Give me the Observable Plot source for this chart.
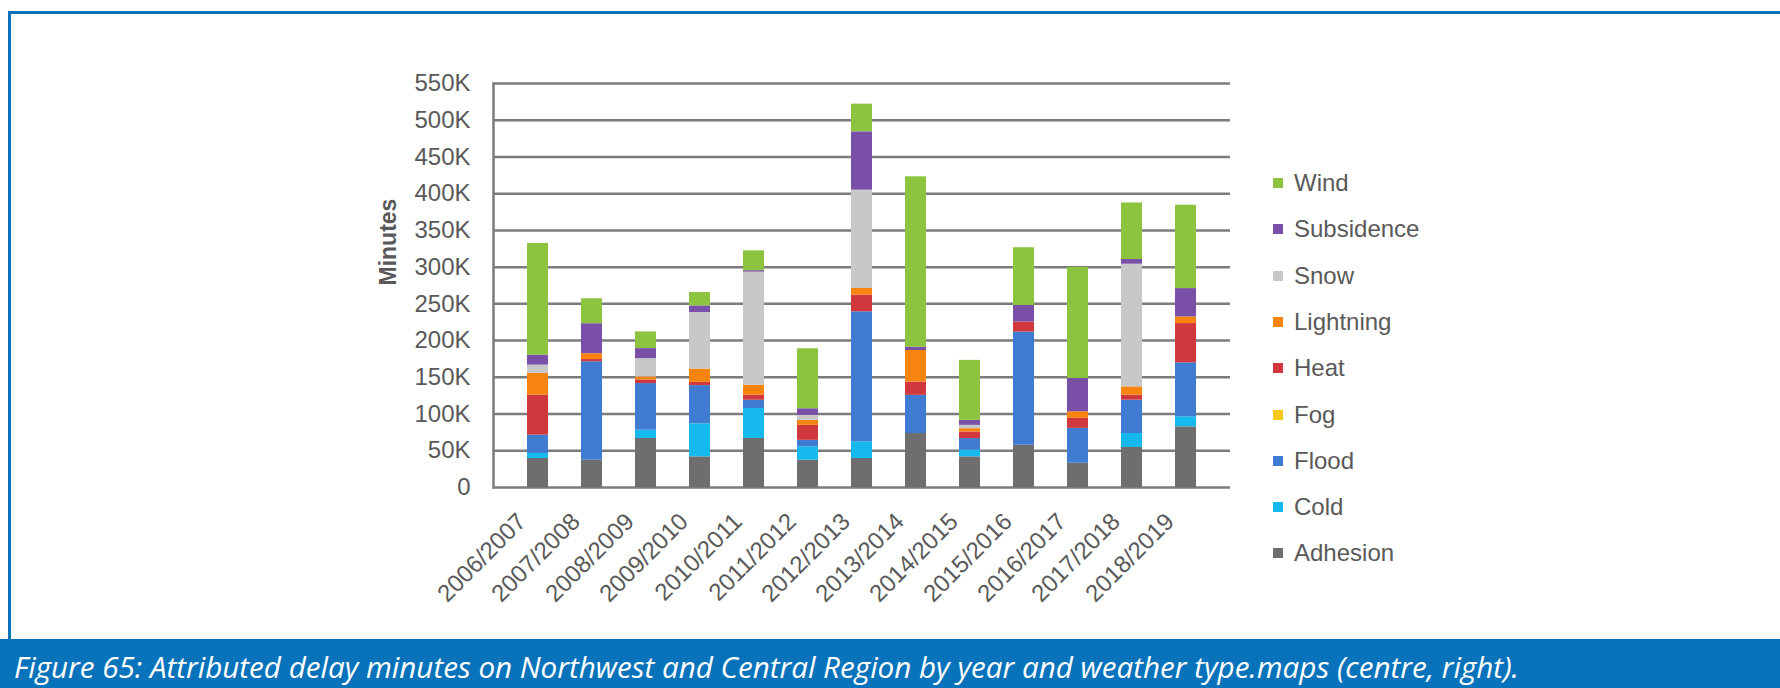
<!DOCTYPE html>
<html>
<head>
<meta charset="utf-8">
<script src="https://cdn.jsdelivr.net/npm/d3@7"></script>
<script src="https://cdn.jsdelivr.net/npm/@observablehq/plot@0.6"></script>
<style>
  html, body { margin: 0; padding: 0; background: #fff; }
  #page { position: relative; width: 1780px; height: 688px; overflow: hidden; font-family: "Liberation Sans", Arial, sans-serif; }
  #frame { position: absolute; left: 8px; top: 11px; width: 1772px; height: 628px; border-top: 3px solid #0873bb; border-left: 3px solid #0873bb; box-sizing: border-box; }
  #chart { position: absolute; left: 0; top: 0; }
  #legend { position: absolute; left: 1273px; top: 160px; }
  .item { position: absolute; left: 0; height: 30px; display: flex; align-items: center; white-space: nowrap; font-size: 24px; color: #595959; }
  .sw { width: 10px; height: 10px; margin-right: 11px; }
  #band { position: absolute; left: 0; top: 639px; width: 1780px; height: 49px; background: #0873bb; }
</style>
</head>
<body>
<div id="page">
  <div id="frame"></div>
  <div id="chart"></div>
  <div id="legend"></div>
  <div id="band"><svg width="1780" height="49"><text id="cap" x="14" y="39" fill="#fff" font-family="Open Sans" font-style="italic" font-size="30" lengthAdjust="spacingAndGlyphs" textLength="1505"></text></svg></div>
</div>
<script>
const years = ["2006/2007","2007/2008","2008/2009","2009/2010","2010/2011","2011/2012","2012/2013","2013/2014","2014/2015","2015/2016","2016/2017","2017/2018","2018/2019"];
// values in thousands of minutes (bottom to top of stack)
const adhesion   = [39.5, 37.2, 66.7, 41.7, 66.7, 37.2, 39.5, 73.5, 41.7, 57.6, 33.0, 54.5, 82.6];
const cold       = [ 6.8,  0.0, 11.3, 45.0, 40.8, 18.0, 22.7,  0.0,  9.0,  0.0,  0.0, 19.0, 13.6];
const flood      = [25.0,134.0, 63.5, 52.0, 11.3,  9.0,177.0, 52.0, 15.9,154.0, 47.5, 45.4, 73.5];
const fog        = [ 0.0,  0.0,  0.0,  0.0,  0.0,  0.0,  0.0,  0.0,  0.0,  0.0,  0.0,  0.0,  0.0];
const heat       = [54.5,  3.0,  5.0,  4.5,  6.8, 20.4, 22.7, 18.0,  9.0, 13.6, 13.6,  6.8, 53.5];
const lightning  = [29.5,  8.0,  4.0, 18.0, 13.6,  6.8,  9.0, 43.0,  4.5,  0.0,  9.0, 11.3,  9.0];
const snow       = [11.3,  0.0, 25.0, 77.0,154.0,  6.8,133.9,  0.0,  4.5,  0.0,  0.0,167.0,  0.0];
const subsidence = [13.6, 40.8, 13.6,  9.0,  2.0,  9.0, 79.4,  4.5,  6.8, 22.7, 45.4,  6.4, 38.6];
const wind       = [152.0,34.0, 22.7, 18.2, 27.0, 81.7, 37.7,232.0, 81.7, 78.5,151.0, 77.0,113.5];

const types = ["Adhesion","Cold","Flood","Fog","Heat","Lightning","Snow","Subsidence","Wind"];
const series = [adhesion, cold, flood, fog, heat, lightning, snow, subsidence, wind];
const colors = ["#6e6e6e","#16b9ee","#3f7bd1","#f7c918","#d0383e","#f7840f","#c8c8c8","#7a4fa8","#8cc43f"];
const yTicks = [0,50000,100000,150000,200000,250000,300000,350000,400000,450000,500000,550000];
const yLabel = "Minutes";
const caption = "Figure 65: Attributed delay minutes on Northwest and Central Region by year and weather type.maps (centre, right).";

const data = [];
types.forEach((t, i) => years.forEach((y, j) => data.push({year: y, type: t, value: series[i][j] * 1000})));

const chart = Plot.plot({
  width: 1780,
  height: 639,
  marginLeft: 493,
  marginRight: 550,
  marginTop: 83,
  marginBottom: 152,
  style: {fontFamily: "Liberation Sans, Arial, sans-serif", fontSize: "24px", color: "#595959", background: "transparent"},
  x: {domain: years, padding: 0.61, label: null},
  y: {domain: [0, 550000], label: null},
  color: {domain: types, range: colors},
  marks: [
    Plot.gridY(yTicks, {stroke: "#7c7c7c", strokeOpacity: 1, strokeWidth: 2.5}),
    Plot.frame({anchor: "left", stroke: "#7c7c7c", strokeWidth: 2.5}),
    Plot.barY(data, {x: "year", y: "value", fill: "type", order: types}),
    Plot.axisY(yTicks, {tickSize: 0, tickPadding: 23, tickFormat: d => d === 0 ? "0" : d / 1000 + "K", fill: "#595959"}),
    Plot.axisX({tickRotate: -45, tickSize: 0, tickPadding: 30, dx: -16, fill: "#595959"}),
    Plot.text([yLabel], {frameAnchor: "left", dx: -105, rotate: -90, fontWeight: "bold", fontSize: 23, fill: "#595959"})
  ]
});
document.getElementById("chart").appendChild(chart);

const legend = document.getElementById("legend");
const legendOrder = types.slice().reverse();
legendOrder.forEach((t, i) => {
  const div = document.createElement("div");
  div.className = "item";
  div.style.top = (i * 46.3 + 8) + "px";
  const sw = document.createElement("span");
  sw.className = "sw";
  sw.style.background = colors[types.indexOf(t)];
  div.appendChild(sw);
  div.appendChild(document.createTextNode(t));
  legend.appendChild(div);
});
document.getElementById("cap").textContent = caption;
</script>
</body>
</html>
